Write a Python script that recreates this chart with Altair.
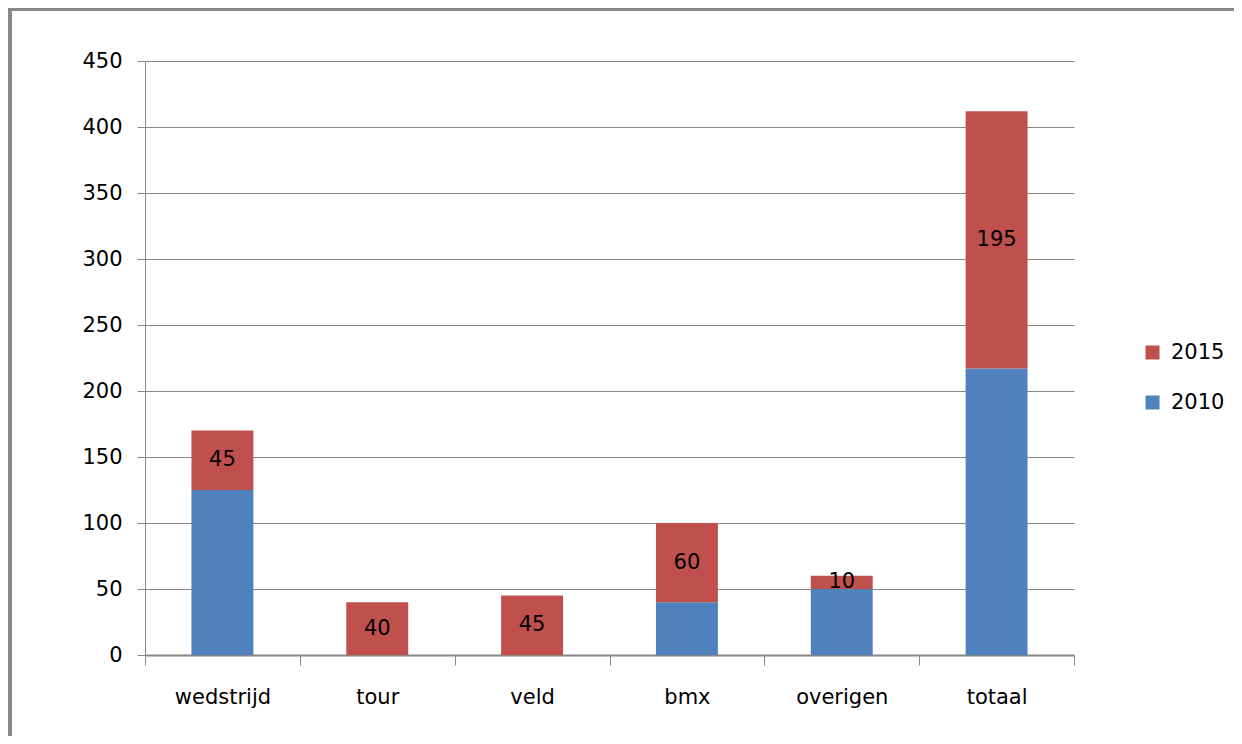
import altair as alt
import pandas as pd

categories = ["wedstrijd", "tour", "veld", "bmx", "overigen", "totaal"]
v2010 = [125, 0, 0, 40, 50, 217]
v2015 = [45, 40, 45, 60, 10, 195]
years = ["2015", "2010"]
colors = ["#C0504D", "#4F81BD"]
y_ticks = [0, 50, 100, 150, 200, 250, 300, 350, 400, 450]

rows = []
for c, a, b in zip(categories, v2010, v2015):
    rows.append({"cat": c, "year": "2010", "value": a, "ord": 0})
    rows.append({"cat": c, "year": "2015", "value": b, "ord": 1})
df = pd.DataFrame(rows)

lab = pd.DataFrame({
    "cat": categories,
    "mid": [a + b / 2 for a, b in zip(v2010, v2015)],
    "label": [str(b) for b in v2015],
})

FONT = "DejaVu Sans"
FS = 21
GRID = "#878787"
W, H = 929, 594
PL, PT, PR, PB = 137, 53, 160, 81

xenc = alt.X("cat:N", sort=categories, title=None,
             scale=alt.Scale(paddingInner=0, paddingOuter=0),
             axis=alt.Axis(labelAngle=0, tickBand="extent", tickSize=10,
                           tickColor=GRID, domainColor=GRID, domainWidth=2,
                           labelPadding=21, labelFontSize=FS, labelFont=FONT,
                           labelColor="black", grid=False))

bars = alt.Chart(df).mark_bar(width=alt.RelativeBandSize(0.4)).encode(
    x=xenc,
    y=alt.Y("value:Q", stack="zero", title=None,
            scale=alt.Scale(domain=[0, 450], nice=False),
            axis=alt.Axis(values=y_ticks, tickSize=8, tickColor=GRID,
                          domainColor=GRID, gridColor=GRID, gridOpacity=1,
                          labelPadding=15, labelFontSize=FS, labelFont=FONT,
                          labelColor="black")),
    color=alt.Color("year:N", scale=alt.Scale(domain=years, range=colors),
                    legend=alt.Legend(title=None, orient="none", legendX=997,
                                      legendY=281, symbolType="square",
                                      symbolSize=196, symbolStrokeWidth=0,
                                      labelFontSize=FS, labelFont=FONT,
                                      labelColor="black", rowPadding=28,
                                      labelOffset=8)),
    order=alt.Order("ord:Q"),
)

text = alt.Chart(lab).mark_text(fontSize=FS, font=FONT, color="black").encode(
    x=alt.X("cat:N", sort=categories),
    y=alt.Y("mid:Q"),
    text="label:N",
)

frame_top = alt.Chart(lab).mark_rule(color=GRID, strokeWidth=3).encode(
    x=alt.value(-PL), x2=alt.value(W + PR), y=alt.value(-PT + 1))
frame_left = alt.Chart(lab).mark_rule(color=GRID, strokeWidth=3).encode(
    x=alt.value(-PL + 2), y=alt.value(-PT), y2=alt.value(H + PB))

chart = alt.layer(bars, text, frame_top, frame_left).properties(
    width=W, height=H,
    autosize=alt.AutoSizeParams(type="none"),
    padding={"left": PL, "top": PT, "right": PR, "bottom": PB},
).configure_view(stroke=None).configure_axis(domainWidth=1)

chart.save("out.html", embed_options={"renderer": "svg", "actions": False})
